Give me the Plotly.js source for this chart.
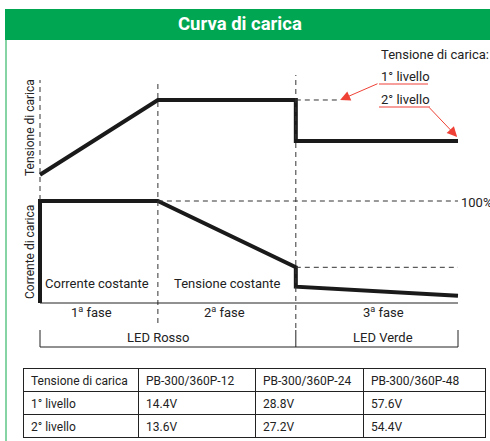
<!DOCTYPE html>
<html>
<head>
<meta charset="utf-8">
<script src="https://cdn.plot.ly/plotly-3.0.1.min.js"></script>
<style>
  html, body { margin: 0; padding: 0; background: #fff; }
  #grafico { width: 490px; height: 441px; }
</style>
</head>
<body>
<div id="grafico"></div>
<script>
// Curva di carica (tempo in unita' arbitrarie)
const fasi = [0, 2.82, 6.12, 10];

const tensioneT = [0, 2.82, 6.12, 6.12, 10];
const tensioneV = [12.94, 14.4, 14.4, 13.6, 13.6];

const correnteT = [0, 0, 2.82, 6.12, 6.12, 10];
const correnteI = [0, 100, 100, 35, 16, 7];

const livelli = [14.4, 13.6];

// Tabella
const intestazione = ["Tensione di carica", "PB-300/360P-12", "PB-300/360P-24", "PB-300/360P-48"];
const nomiLivelli = ["1° livello", "2° livello"];
const tensioni12 = ["14.4V", "13.6V"];
const tensioni24 = ["28.8V", "27.2V"];
const tensioni48 = ["57.6V", "54.4V"];

const W = 490, H = 441;
const FONT = "Roboto, sans-serif";
const VERDE = "#00a651";
const ROSSO = "#ef4136";
const NERO = "#1a1a1a";

function px(x) { return x / W; }
function py(y) { return 1 - y / H; }
// spazi non separabili: la tabella non deve andare a capo
function unaRiga(arr) { return arr.map((s) => s.replace(/ /g, "\u00a0")); }

const traceTensione = {
  x: tensioneT,
  y: tensioneV,
  mode: "lines",
  line: { color: NERO, width: 4 },
  hoverinfo: "skip",
};

const traceCorrente = {
  x: correnteT,
  y: correnteI,
  yaxis: "y2",
  mode: "lines",
  line: { color: NERO, width: 4 },
  hoverinfo: "skip",
};

const traceTabella = {
  type: "table",
  domain: { x: [px(23), px(485)], y: [py(439), py(368)] },
  columnwidth: [115, 117, 108, 122],
  header: {
    values: unaRiga(intestazione),
    align: "left",
    height: 23,
    line: { color: "#222", width: 1 },
    fill: { color: "white" },
    font: { family: FONT, size: 12, color: "#222" },
  },
  cells: {
    values: [unaRiga(nomiLivelli), tensioni12, tensioni24, tensioni48],
    align: "left",
    height: 23,
    line: { color: "#222", width: 1 },
    fill: { color: "white" },
    font: { family: FONT, size: 12, color: "#222" },
  },
};

const tratteggio = { color: "#333", width: 1, dash: "5px,4px" };
const sottile = { color: "#222", width: 1 };

const shapes = [
  // intestazione verde e bordo sinistro
  { type: "rect", xref: "paper", yref: "paper", x0: px(5), x1: 1, y0: py(40), y1: py(9),
    fillcolor: VERDE, line: { width: 0 }, layer: "below" },
  { type: "line", xref: "paper", yref: "paper", x0: px(6), x1: px(6), y0: 0, y1: py(40),
    line: { color: "#86d3a4", width: 2 } },
  // separatori delle fasi
  { type: "line", xref: "x", yref: "paper", x0: fasi[0], x1: fasi[0], y0: py(200), y1: py(80), line: tratteggio },
  { type: "line", xref: "x", yref: "paper", x0: fasi[1], x1: fasi[1], y0: py(323), y1: py(80), line: tratteggio },
  { type: "line", xref: "x", yref: "paper", x0: fasi[2], x1: fasi[2], y0: py(328), y1: py(75), line: tratteggio },
  // livello 1 tratteggiato
  { type: "line", xref: "x", yref: "y", x0: fasi[2], x1: 7.18, y0: livelli[0], y1: livelli[0], line: tratteggio },
  // 100% e livello corrente fine fase 2
  { type: "line", xref: "x", yref: "y2", x0: fasi[1], x1: fasi[3], y0: 100, y1: 100, line: tratteggio },
  { type: "line", xref: "x", yref: "y2", x0: fasi[2], x1: fasi[3], y0: 35, y1: 35, line: tratteggio },
  // asse base corrente
  { type: "line", xref: "x", yref: "y2", x0: fasi[0], x1: fasi[3], y0: 0, y1: 0, line: sottile },
  // parentesi LED
  { type: "line", xref: "x", yref: "paper", x0: fasi[0], x1: fasi[0], y0: py(347), y1: py(330), line: sottile },
  { type: "line", xref: "x", yref: "paper", x0: fasi[0], x1: fasi[3], y0: py(347), y1: py(347), line: sottile },
  { type: "line", xref: "x", yref: "paper", x0: fasi[2], x1: fasi[2], y0: py(347), y1: py(330), line: sottile },
  { type: "line", xref: "x", yref: "paper", x0: fasi[3], x1: fasi[3], y0: py(347), y1: py(330), line: sottile },
  // sottolineature rosse
  { type: "line", xref: "paper", yref: "paper", x0: px(379), x1: px(428), y0: py(84), y1: py(84),
    line: { color: ROSSO, width: 1 } },
  { type: "line", xref: "paper", yref: "paper", x0: px(379), x1: px(430), y0: py(107), y1: py(107),
    line: { color: ROSSO, width: 1 } },
];

function testo(t, x, y, opz) {
  return Object.assign({
    text: t, xref: "paper", yref: "paper", x: px(x), y: py(y),
    showarrow: false, xanchor: "center", yanchor: "middle",
    font: { family: FONT, size: 13, color: "#222" },
  }, opz || {});
}

const ruotato = { textangle: -90, font: { family: FONT, size: 12, color: "#222" } };

function freccia(x, y, ax, ay) {
  return {
    text: "", xref: "x", yref: "y", axref: "x", ayref: "y",
    x: x, y: y, ax: ax, ay: ay, showarrow: true,
    arrowhead: 2, arrowsize: 2, arrowwidth: 1, arrowcolor: ROSSO,
  };
}

const annotations = [
  testo("<b>Curva di carica</b>", 240, 24, { font: { family: FONT, size: 18.5, color: "white" } }),
  testo("Tensione di carica:", 379, 54, { xanchor: "left" }),
  testo("1° livello", 379, 76, { xanchor: "left" }),
  testo("2° livello", 379, 99, { xanchor: "left" }),
  testo("100%", 459, 202, { xanchor: "left" }),
  testo("Tensione di carica", 30, 128, ruotato),
  testo("Corrente di carica", 30, 252, ruotato),
  testo("Corrente costante", 97, 283),
  testo("Tensione costante", 227, 283),
  testo("1<sup>a</sup> fase", 91, 312),
  testo("2<sup>a</sup> fase", 224, 312),
  testo("3<sup>a</sup> fase", 383, 312),
  testo("LED Rosso", 158, 337),
  testo("LED Verde", 383, 337),
  freccia(7.18, livelli[0], 8.11, 14.73),
  freccia(9.98, 13.68, 9.28, 14.28),
];

const layout = {
  width: W,
  height: H,
  margin: { l: 0, r: 0, t: 0, b: 0 },
  showlegend: false,
  paper_bgcolor: "white",
  plot_bgcolor: "rgba(0,0,0,0)",
  xaxis: { range: [-40 / 41.8, 10 + 32 / 41.8], visible: false, fixedrange: true },
  yaxis: { range: [7.746, 16.351], visible: false, fixedrange: true },
  yaxis2: { range: [-135.29, 297.06], overlaying: "y", visible: false, fixedrange: true },
  shapes: shapes,
  annotations: annotations,
};

Plotly.newPlot("grafico", [traceTensione, traceCorrente, traceTabella], layout, {
  displayModeBar: false,
  staticPlot: true,
});
</script>
</body>
</html>
